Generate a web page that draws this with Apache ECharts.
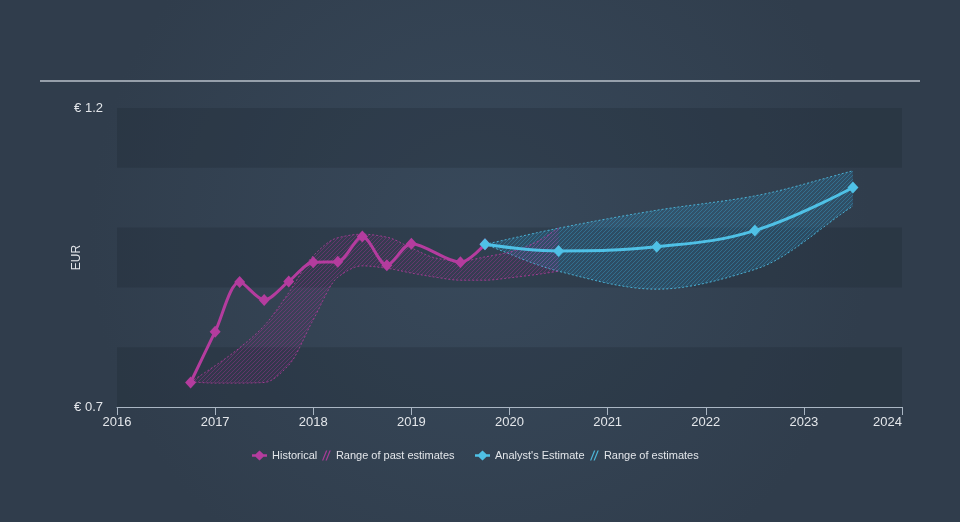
<!DOCTYPE html>
<html>
<head>
<meta charset="utf-8">
<script src="https://cdn.jsdelivr.net/npm/echarts@6/dist/echarts.min.js"></script>
<style>
html,body{margin:0;padding:0;background:#333f4e;}
#chart{width:960px;height:522px;}
</style>
</head>
<body>
<div id="chart"></div>
<script>
// ---- data ----
const histYears = [2016.75, 2017.0, 2017.25, 2017.5, 2017.75, 2018.0, 2018.25, 2018.5, 2018.75, 2019.0, 2019.5, 2019.75];
const histValues = [0.741, 0.826, 0.909, 0.879, 0.910, 0.942, 0.943, 0.985, 0.937, 0.973, 0.942, 0.972];

const pastRangeYears = [2016.75, 2017.0, 2017.25, 2017.5, 2017.75, 2018.0, 2018.25, 2018.5, 2018.75, 2019.0, 2019.25, 2019.5, 2019.75, 2020.0, 2020.25, 2020.5];
const pastLow  = [0.742, 0.740, 0.740, 0.741, 0.770, 0.846, 0.917, 0.936, 0.932, 0.924, 0.917, 0.912, 0.912, 0.916, 0.921, 0.927];
const pastHigh = [0.742, 0.769, 0.799, 0.836, 0.891, 0.953, 0.983, 0.989, 0.984, 0.966, 0.949, 0.944, 0.951, 0.959, 0.974, 0.999];

const estYears = [2019.75, 2020.5, 2021.5, 2022.5, 2023.5];
const estValues = [0.972, 0.961, 0.968, 0.995, 1.067];
const estLow  = [0.972, 0.927, 0.897, 0.930, 1.036];
const estHigh = [0.972, 0.999, 1.029, 1.053, 1.095];

const yMin = 0.7, yMax = 1.2, yStep = 0.1;
const xMin = 2016, xMax = 2024;

// ---- styling helpers ----
const MAGENTA = '#b43c9e';
const BLUE = '#4fc1e6';
const TEXT = '#e3e6ea';
const FONT = 'Liberation Sans, Arial, sans-serif';

function hatch(lineColor, bg) {
  const s = 4;
  const c = document.createElement('canvas');
  c.width = s; c.height = s;
  const g = c.getContext('2d');
  if (bg) { g.fillStyle = bg; g.fillRect(0, 0, s, s); }
  g.strokeStyle = lineColor; g.lineWidth = 0.8;
  g.beginPath();
  g.moveTo(0, s); g.lineTo(s, 0);
  g.moveTo(-s, s); g.lineTo(s, -s);
  g.moveTo(0, 2 * s); g.lineTo(2 * s, 0);
  g.stroke();
  return c;
}
const pair = (xs, ys) => xs.map((x, i) => [x, ys[i]]);

// monotone cubic sampling of pixel points (rendering only)
function monotone(pts, steps) {
  const n = pts.length;
  if (n < 3) return pts;
  const dx = [], m = [];
  for (let i = 0; i < n - 1; i++) {
    dx[i] = pts[i + 1][0] - pts[i][0];
    m[i] = (pts[i + 1][1] - pts[i][1]) / dx[i];
  }
  const t = [m[0]];
  for (let i = 1; i < n - 1; i++) {
    if (m[i - 1] * m[i] <= 0) t[i] = 0;
    else t[i] = 3 * (dx[i - 1] + dx[i]) / ((2 * dx[i] + dx[i - 1]) / m[i - 1] + (dx[i] + 2 * dx[i - 1]) / m[i]);
  }
  t[n - 1] = m[n - 2];
  const out = [];
  for (let i = 0; i < n - 1; i++) {
    const [x0, y0] = pts[i], [x1, y1] = pts[i + 1], h = dx[i];
    for (let k = 0; k < steps; k++) {
      const s = k / steps, s2 = s * s, s3 = s2 * s;
      const h00 = 2 * s3 - 3 * s2 + 1, h10 = s3 - 2 * s2 + s, h01 = -2 * s3 + 3 * s2, h11 = s3 - s2;
      out.push([x0 + h * s, h00 * y0 + h10 * h * t[i] + h01 * y1 + h11 * h * t[i + 1]]);
    }
  }
  out.push(pts[n - 1]);
  return out;
}

function bandSeries(name, xs, lo, hi, fill, stroke, z) {
  return {
    name: name, type: 'custom', z: z, silent: true,
    data: [[xs[0], lo[0]]],
    encode: { x: 0, y: 1 },
    itemStyle: { color: stroke },
    renderItem: function (params, api) {
      const up = monotone(xs.map((x, i) => api.coord([x, hi[i]])), 16);
      const dn = monotone(xs.map((x, i) => api.coord([x, lo[i]])), 16);
      return {
        type: 'group',
        children: [
          { type: 'polygon', shape: { points: up.concat(dn.slice().reverse()) }, style: { fill: fill, stroke: null } },
          { type: 'polyline', shape: { points: up }, style: { fill: null, stroke: stroke, lineWidth: 1, lineDash: [2, 2] } },
          { type: 'polyline', shape: { points: dn }, style: { fill: null, stroke: stroke, lineWidth: 1, lineDash: [2, 2] } }
        ]
      };
    }
  };
}

const hatchPast = { type: 'pattern', image: hatch('rgba(170,50,150,0.5)', 'rgba(150,45,135,0.07)'), repeat: 'repeat' };
const hatchEst = { type: 'pattern', image: hatch('rgba(60,170,215,0.45)', 'rgba(45,140,190,0.22)'), repeat: 'repeat' };

const chart = echarts.init(document.getElementById('chart'), null, { renderer: 'canvas' });

const lineIcon = 'path://M0,3.8 L3.5,3.8 L7.5,0 L11.5,3.8 L15,3.8 L15,6.2 L11.5,6.2 L7.5,10 L3.5,6.2 L0,6.2 Z';
const hatchIcon = 'path://M0,10 L4,0 L5.3,0 L1.3,10 Z M3.5,10 L7.5,0 L8.8,0 L4.8,10 Z';

function legendOne(left, width, name, icon, color) {
  return {
    left: left, top: 450, padding: 0, itemWidth: width, itemHeight: 10, itemGap: 0,
    textStyle: { color: TEXT, fontSize: 11, fontFamily: FONT },
    selectedMode: false,
    data: [{ name: name, icon: icon, itemStyle: { color: color } }]
  };
}

chart.setOption({
  animation: false,
  backgroundColor: {
    type: 'radial', x: 0.5, y: 0.45, r: 0.75,
    colorStops: [{ offset: 0, color: '#38495b' }, { offset: 1, color: '#303d4c' }]
  },
  textStyle: { fontFamily: FONT },
  grid: { left: 117, right: 58, top: 108, bottom: 115 },
  graphic: [{
    type: 'line', shape: { x1: 40, y1: 81, x2: 920, y2: 81 },
    style: { stroke: '#b8c0ca', lineWidth: 1.5 }, silent: true
  }],
  legend: [
    legendOne(252, 15, 'Historical', lineIcon, MAGENTA),
    legendOne(322, 9, 'Range of past estimates', hatchIcon, 'rgba(180,60,158,0.9)'),
    legendOne(475, 15, "Analyst's Estimate", lineIcon, BLUE),
    legendOne(590, 9, 'Range of estimates', hatchIcon, 'rgba(79,193,230,0.9)')
  ],
  xAxis: {
    type: 'value', min: xMin, max: xMax, interval: 1,
    axisLine: { show: true, lineStyle: { color: '#aab6c3', width: 1 } },
    axisTick: { show: true, length: 8, lineStyle: { color: '#aab6c3' } },
    axisLabel: {
      color: TEXT, fontSize: 13, margin: 9, fontFamily: FONT,
      formatter: v => String(Math.round(v)), alignMaxLabel: 'right'
    },
    splitLine: { show: false }
  },
  yAxis: {
    type: 'value', min: yMin, max: yMax, interval: yStep,
    name: 'EUR', nameLocation: 'middle', nameGap: 34, nameRotate: 90, nameMoveOverlap: false,
    nameTextStyle: { color: TEXT, fontSize: 12, fontFamily: FONT },
    axisLine: { show: false }, axisTick: { show: false },
    axisLabel: {
      color: TEXT, fontSize: 13, margin: 14, fontFamily: FONT,
      formatter: v => (Math.abs(v - yMin) < 1e-6 || Math.abs(v - yMax) < 1e-6) ? '€ ' + v.toFixed(1) : ''
    },
    splitLine: { show: false },
    splitArea: { show: true, areaStyle: { color: ['rgba(30,40,52,0.28)', 'rgba(0,0,0,0)'] } }
  },
  series: [
    bandSeries('Range of estimates', estYears, estLow, estHigh, hatchEst, 'rgba(79,193,230,0.85)', 1),
    bandSeries('Range of past estimates', pastRangeYears, pastLow, pastHigh, hatchPast, 'rgba(180,60,158,0.85)', 2),
    {
      name: 'Historical', type: 'line', smooth: 0.3,
      data: pair(histYears, histValues),
      symbol: 'diamond', symbolSize: [11, 12], showSymbol: true,
      lineStyle: { color: MAGENTA, width: 3 },
      itemStyle: { color: MAGENTA },
      z: 4
    },
    {
      name: "Analyst's Estimate", type: 'line', smooth: 0.4,
      data: pair(estYears, estValues),
      symbol: 'diamond', symbolSize: [11, 12],
      lineStyle: { color: BLUE, width: 3 },
      itemStyle: { color: BLUE },
      z: 5
    }
  ]
});
</script>
</body>
</html>
